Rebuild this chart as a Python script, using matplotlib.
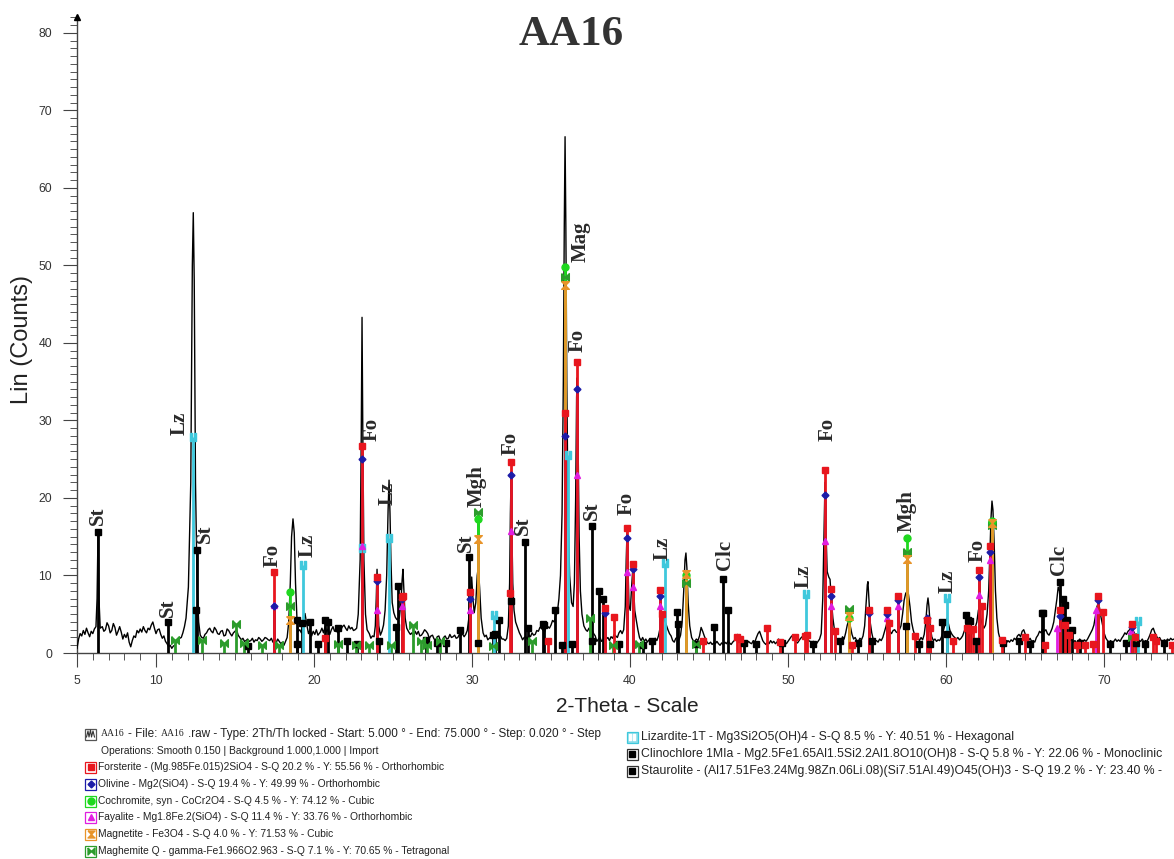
import numpy as np
import matplotlib
matplotlib.use("Agg")
import matplotlib.pyplot as plt
from matplotlib.path import Path
from matplotlib.patches import Rectangle
from matplotlib.lines import Line2D
from matplotlib.ticker import MultipleLocator, FixedLocator

# ---------------- measured diffraction trace (2-theta, counts) ----------------
trace_a = [(5.0,0.6),(5.1,1.8),(5.2,2.5),(5.3,2.2),(5.4,2.9),(5.5,2.4),(5.6,3.2),(5.7,2.6),(5.8,2.1),(5.9,2.8),(6.0,2.5),(6.1,3.1),(6.2,3.4),(6.27,7.0),(6.33,15.5),(6.39,7.0),(6.47,3.2),(6.6,3.4),(6.7,2.8),(6.8,3.0),(6.9,3.9),(7.0,3.5),(7.1,2.6),(7.2,2.9),(7.3,3.8),(7.4,3.3),(7.5,2.3),(7.6,2.8),(7.7,3.4),(7.8,2.7),(7.9,1.8),(8.0,2.4),(8.1,2.0),(8.2,2.6),(8.3,1.4),(8.4,0.8),(8.5,1.6),(8.6,2.2),(8.7,2.0),(8.8,2.9),(8.9,2.6),(9.0,3.1),(9.1,2.7),(9.2,3.4),(9.3,2.9),(9.4,2.6),(9.5,3.2),(9.6,3.0),(9.7,3.6),(9.8,4.0),(9.9,3.2),(10.0,2.5),(10.1,3.0),(10.2,3.1),(10.3,2.4),(10.4,1.9),(10.5,2.2),(10.6,1.5),(10.7,1.2),(10.8,0.8),(10.9,1.0),(11.0,0.6),(11.1,0.9),(11.2,1.0),(11.3,1.5),(11.4,1.6),(11.5,1.9),(11.6,2.0),(11.7,2.6),(11.8,3.4),(11.9,4.5),(12.05,8.5),(12.2,22.0),(12.3,50.0),(12.36,56.8),(12.42,48.0),(12.5,22.0),(12.6,9.0),(12.7,4.0),(12.8,2.3),(12.9,2.0)]
trace_b = [(13.0,1.9),(13.1,2.4),(13.2,2.6),(13.3,3.0),(13.4,3.2),(13.5,2.8),(13.6,2.6),(13.7,3.3),(13.8,3.0),(13.9,2.5),(14.0,2.4),(14.1,2.8),(14.2,2.9),(14.3,2.2),(14.4,2.3),(14.5,3.1),(14.6,2.9),(14.7,2.5),(14.8,2.2),(14.9,2.6),(15.0,2.8),(15.1,3.0),(15.2,2.3),(15.3,2.0),(15.4,1.7),(15.5,1.9),(15.6,1.5),(15.7,1.6),(15.8,1.8),(15.9,1.5),(16.0,1.6),(16.1,1.9),(16.2,1.4),(16.3,1.7),(16.4,1.6),(16.5,2.0),(16.6,1.8),(16.7,1.5),(16.8,1.7),(16.9,2.0),(17.0,1.9),(17.1,1.7),(17.2,1.6),(17.3,1.9),(17.4,1.4),(17.5,1.5),(17.6,1.3),(17.7,1.8),(17.8,1.5),(17.9,1.2),(18.0,1.4),(18.1,1.0),(18.2,1.5),(18.3,2.0),(18.4,4.0),(18.5,9.0),(18.58,15.0),(18.67,17.3),(18.75,15.5),(18.83,9.0),(18.92,4.5),(19.0,2.8),(19.1,3.0),(19.2,2.6),(19.3,3.6),(19.43,5.1),(19.55,3.6),(19.65,2.5),(19.75,3.0),(19.85,2.2),(19.95,2.8),(20.05,2.4),(20.15,3.0),(20.25,2.3)]
trace_c = [(20.4,2.7),(20.5,3.2),(20.6,2.6),(20.7,3.4),(20.8,2.7),(20.9,3.1),(21.0,2.4),(21.1,3.0),(21.2,3.4),(21.3,2.8),(21.4,3.1),(21.5,2.6),(21.6,3.3),(21.7,3.0),(21.8,3.4),(21.9,3.6),(22.0,3.2),(22.1,2.9),(22.2,3.5),(22.3,3.1),(22.4,3.3),(22.5,2.9),(22.6,3.0),(22.7,3.2),(22.8,5.0),(22.92,12.0),(22.99,28.0),(23.04,43.3),(23.09,28.0),(23.16,12.0),(23.26,5.0),(23.36,3.0),(23.5,2.5),(23.6,1.9),(23.7,2.2),(23.8,2.1),(23.88,3.5),(23.94,7.0),(23.99,10.8),(24.04,7.0),(24.1,3.5),(24.2,2.3),(24.3,2.8),(24.4,3.6),(24.5,5.5),(24.6,10.0),(24.69,18.5),(24.75,22.3),(24.81,18.0),(24.87,12.0),(24.95,6.5),(25.05,5.2),(25.15,4.6),(25.25,4.3),(25.4,4.5),(25.5,6.5),(25.58,9.5),(25.63,10.8),(25.69,8.0),(25.77,4.5),(25.87,3.2),(26.0,2.7),(26.1,2.4),(26.2,2.6),(26.3,2.1),(26.4,2.8),(26.5,2.4),(26.6,2.8),(26.7,2.2),(26.8,2.3),(26.9,2.6),(27.0,3.0),(27.1,2.8),(27.2,2.5),(27.3,1.9),(27.4,2.2),(27.5,2.3),(27.6,1.8),(27.7,1.7),(27.8,2.1),(27.9,2.2),(28.0,1.6),(28.1,1.5),(28.2,2.0),(28.3,2.2),(28.4,1.8),(28.5,1.9),(28.6,2.4),(28.7,2.0),(28.8,2.1),(28.9,2.3),(29.0,1.9),(29.1,2.0),(29.2,2.4),(29.3,2.2),(29.4,2.5),(29.5,2.1)]
trace_d = [(29.6,2.4),(29.7,2.9),(29.8,4.5),(29.9,7.5),(29.98,9.8),(30.06,7.0),(30.14,5.2),(30.24,6.5),(30.33,10.0),(30.4,11.1),(30.48,8.5),(30.58,4.5),(30.7,2.6),(30.8,2.1),(30.9,2.3),(31.0,1.7),(31.1,1.9),(31.2,2.1),(31.3,2.6),(31.4,2.5),(31.5,2.3),(31.6,2.0),(31.7,1.9),(31.8,2.2),(31.9,1.8),(32.0,1.8),(32.1,1.6),(32.2,1.9),(32.3,3.5),(32.38,9.0),(32.43,18.0),(32.47,22.5),(32.52,16.0),(32.58,9.0),(32.66,5.5),(32.76,4.0),(32.9,3.2),(33.0,2.6),(33.1,2.2),(33.2,1.7),(33.3,2.0),(33.4,2.1),(33.5,1.8),(33.6,2.3),(33.7,2.1),(33.8,2.6),(33.9,2.3),(34.0,2.4),(34.1,2.9),(34.2,2.8),(34.3,3.3),(34.4,3.2),(34.5,2.9),(34.6,2.7),(34.7,3.5),(34.8,3.4),(34.9,3.2),(35.0,3.6),(35.1,4.2),(35.2,4.0),(35.3,4.8),(35.4,5.2)]
trace_e = [(35.5,7.0),(35.6,10.0),(35.7,18.0),(35.78,35.0),(35.84,55.0),(35.89,66.6),(35.94,55.0),(36.0,35.0),(36.08,18.0),(36.18,10.0),(36.3,6.5),(36.4,6.0),(36.48,9.0),(36.56,20.0),(36.62,33.0),(36.66,35.5),(36.71,28.0),(36.78,15.0),(36.86,8.0),(36.96,5.0),(37.08,3.5),(37.2,3.0)]
trace_f = [(37.3,2.8),(37.4,3.2),(37.5,2.6),(37.6,3.0),(37.7,2.5),(37.8,2.2),(37.9,1.5),(38.0,1.8),(38.1,2.0),(38.2,1.5),(38.3,1.7),(38.4,2.2),(38.5,1.8),(38.6,2.0),(38.7,1.6),(38.8,2.1),(38.9,1.9),(39.0,2.4),(39.1,2.2),(39.2,2.0),(39.3,2.6),(39.4,2.9),(39.5,2.5),(39.6,3.0),(39.7,6.0),(39.76,12.0),(39.81,15.5),(39.87,11.0),(39.94,6.0),(40.02,5.5),(40.1,8.5),(40.17,10.6),(40.24,8.0),(40.3,5.5),(40.4,4.2),(40.5,3.0),(40.6,2.0),(40.7,1.6),(40.8,2.0),(40.9,1.5),(41.0,1.8),(41.1,1.4),(41.2,1.7),(41.3,1.3),(41.4,1.6),(41.5,1.5),(41.6,1.9),(41.7,1.6),(41.8,2.2),(41.9,3.2),(42.0,4.5),(42.1,5.1),(42.2,4.2),(42.3,3.6),(42.4,3.0),(42.5,2.5),(42.6,2.2),(42.7,1.6),(42.8,1.4),(42.9,1.9),(43.0,2.0),(43.1,1.7),(43.2,2.3),(43.3,4.0),(43.4,8.0),(43.48,12.0),(43.54,12.9),(43.6,11.0),(43.68,6.5),(43.78,3.5),(43.9,2.0),(44.0,1.6),(44.1,1.5),(44.2,1.8),(44.3,1.6),(44.4,2.2),(44.5,3.3),(44.6,2.8),(44.7,2.2),(44.8,1.7),(44.9,1.3),(45.0,1.2),(45.1,1.4),(45.2,1.1),(45.3,1.3),(45.4,1.2),(45.5,1.5),(45.6,1.2),(45.7,1.0),(45.8,1.3),(45.9,1.1),(46.0,1.4),(46.1,1.2),(46.2,1.5),(46.3,1.3),(46.4,1.1),(46.5,1.4),(46.6,1.6),(46.7,2.1),(46.8,2.4),(46.9,2.0),(47.0,1.5),(47.1,1.3),(47.2,1.1),(47.3,1.4),(47.4,1.2),(47.5,1.5),(47.6,1.3),(47.7,1.2),(47.8,1.6),(47.9,1.4),(48.0,2.0),(48.1,2.5),(48.2,2.8),(48.3,2.2),(48.4,1.6),(48.5,1.3),(48.6,1.1),(48.7,1.4),(48.8,1.2),(48.9,1.6),(49.0,1.3),(49.1,1.5),(49.2,1.2),(49.3,1.4),(49.4,1.8),(49.5,1.5),(49.6,1.3),(49.7,1.6),(49.8,1.4),(49.9,1.2),(50.0,1.5),(50.1,1.8),(50.2,2.1),(50.3,2.3),(50.4,1.8),(50.5,1.4),(50.6,1.3),(50.7,1.6),(50.8,1.9)]
trace_g = [(50.9,2.1),(51.0,2.4),(51.1,2.6),(51.2,1.9),(51.3,1.6),(51.4,1.5),(51.5,1.3),(51.6,1.5),(51.7,1.4),(51.8,1.2),(51.9,1.5),(52.0,1.8),(52.1,2.5),(52.2,7.0),(52.28,16.0),(52.34,22.0),(52.4,16.0),(52.48,10.5),(52.58,9.8),(52.66,9.5),(52.74,7.0),(52.84,4.5),(52.94,3.0),(53.05,2.0),(53.15,1.6),(53.25,1.7),(53.35,1.5),(53.45,2.1),(53.55,1.8),(53.65,2.6),(53.75,3.6),(53.86,4.3),(53.95,3.4),(54.05,2.4),(54.15,1.8),(54.25,2.0),(54.35,1.6),(54.45,1.5),(54.55,1.9),(54.65,1.7),(54.75,2.2),(54.85,3.5),(54.95,6.5),(55.02,8.8),(55.06,9.2),(55.12,7.0),(55.2,4.0),(55.3,2.6),(55.4,1.7),(55.5,1.5),(55.6,1.6),(55.7,1.4),(55.8,1.8),(55.9,1.6),(56.0,2.0),(56.1,2.7),(56.2,3.4),(56.28,4.0),(56.36,3.5),(56.45,2.8),(56.55,2.5),(56.65,2.9),(56.75,3.0),(56.85,2.7),(56.95,2.6),(57.05,3.0),(57.15,3.5),(57.25,5.0),(57.35,6.8),(57.45,7.7),(57.53,7.9),(57.62,7.6),(57.72,6.0),(57.82,4.0),(57.92,3.0),(58.02,2.3),(58.12,1.8),(58.22,2.0),(58.32,1.6),(58.42,2.0),(58.52,1.7),(58.62,2.4),(58.72,4.0),(58.8,6.2),(58.86,7.1),(58.92,6.0),(59.0,3.5),(59.1,2.1),(59.2,1.6),(59.3,1.8),(59.4,1.5),(59.5,1.7),(59.6,1.6),(59.7,2.0),(59.8,2.6),(59.9,3.4),(60.0,4.2),(60.06,4.5),(60.15,3.8),(60.25,2.9),(60.35,2.5),(60.45,2.2),(60.55,2.0),(60.65,1.8),(60.75,2.0),(60.85,1.7),(60.95,1.9),(61.05,2.2),(61.15,2.8),(61.25,3.2),(61.35,3.4),(61.45,2.8),(61.55,3.0),(61.65,2.5),(61.75,2.8),(61.85,3.3),(61.95,4.0),(62.05,5.5),(62.12,6.0),(62.2,4.5),(62.3,3.6),(62.4,3.2),(62.5,3.6),(62.6,5.0)]
trace_h = [(62.7,8.0),(62.78,13.0),(62.85,17.5),(62.91,19.6),(62.97,18.5),(63.05,14.0),(63.13,8.0),(63.22,4.5),(63.32,2.6),(63.42,1.8),(63.52,1.5),(63.62,1.8),(63.72,1.4),(63.82,1.3),(63.92,1.6),(64.02,1.4),(64.12,1.7),(64.22,1.5),(64.32,1.9),(64.42,1.7),(64.52,2.2),(64.62,2.4),(64.72,2.1),(64.82,2.8),(64.92,3.0),(65.02,2.4),(65.12,2.0),(65.22,1.6),(65.32,1.9),(65.42,1.5),(65.52,1.6),(65.62,1.4),(65.72,2.0),(65.82,2.3),(65.92,2.8),(66.02,2.6),(66.12,3.2),(66.22,2.8),(66.32,3.0),(66.42,2.5),(66.52,2.3),(66.62,2.7),(66.72,3.2),(66.82,4.0),(66.92,5.5),(67.02,7.0),(67.1,8.5),(67.18,8.0),(67.26,6.0),(67.36,4.5),(67.46,3.6),(67.56,3.0),(67.66,2.4),(67.76,2.0),(67.86,1.6),(67.96,1.8),(68.06,1.4),(68.16,1.6),(68.26,1.3),(68.36,1.5),(68.46,1.8),(68.56,1.6),(68.66,1.4),(68.76,1.7),(68.86,1.5),(68.96,1.8),(69.06,2.2),(69.16,2.6),(69.26,3.0),(69.36,3.6),(69.46,4.8),(69.56,6.0),(69.64,6.5),(69.72,5.8),(69.82,4.5),(69.92,3.5),(70.02,2.5),(70.12,1.9),(70.22,1.6),(70.32,1.4),(70.42,1.6),(70.52,1.3),(70.62,1.5),(70.72,1.8),(70.82,1.5),(70.92,1.7),(71.02,1.5),(71.12,1.9),(71.22,2.2),(71.32,2.6),(71.42,2.4),(71.52,2.8),(71.62,3.0),(71.72,3.3),(71.82,3.0),(71.92,2.6),(72.02,2.2),(72.12,2.0),(72.22,1.6),(72.32,1.5),(72.42,1.8),(72.52,1.4),(72.62,1.6),(72.72,1.5),(72.82,1.9),(72.92,2.4),(73.02,3.0),(73.12,3.2),(73.22,2.6),(73.32,2.2),(73.42,1.8),(73.52,2.0),(73.62,1.6),(73.72,1.4),(73.82,1.7),(73.92,1.5),(74.02,1.8),(74.12,1.6),(74.22,1.9),(74.32,1.7),(74.43,1.8)]

# ---------------- reference patterns (stick positions, heights) ----------------
fo_x = [17.49,20.7,23.04,24.0,25.55,25.65,29.87,32.4,32.47,34.8,35.89,36.65,38.42,39.0,39.81,40.2,41.9,42.0,44.64,46.75,46.95,48.65,49.5,50.44,51.07,51.18,52.34,52.7,53.0,54.03,55.1,56.29,56.41,56.98,58.04,58.82,59.0,60.46,61.3,61.5,61.7,62.11,62.26,62.8,63.52,65.0,66.27,67.22,67.5,67.8,68.27,68.8,69.3,69.64,69.92,71.75,71.97,73.1,73.3,74.3]
fo_y = [10.5,1.9,26.7,9.8,7.2,7.4,7.9,7.8,24.6,1.5,30.9,37.6,5.8,4.7,16.1,11.5,8.1,5.0,1.5,2.1,1.8,3.2,1.4,2.1,2.2,2.3,23.6,8.2,2.9,1.0,5.6,5.6,3.9,7.3,2.2,4.3,3.2,1.6,3.2,3.0,3.1,10.7,6.1,13.8,1.7,2.1,1.0,5.5,3.6,2.3,1.0,1.0,1.2,7.3,5.3,3.8,2.1,2.1,1.6,1.0]
ol_x = [17.49,23.04,24.0,25.6,29.87,32.47,35.89,36.65,38.42,39.81,40.2,41.9,52.34,52.7,55.1,56.29,56.98,58.82,62.11,62.8,67.22,69.64,71.75]
ol_y = [6.0,25.0,9.3,7.0,7.0,22.9,28.0,34.0,5.2,14.8,10.9,7.3,20.4,7.4,5.2,5.0,6.8,4.5,9.8,13.0,4.8,6.8,3.4]
co_x = [18.48,30.38,35.89,43.54,53.86,57.53,62.91]
co_y = [7.9,17.3,49.8,10.0,4.5,14.8,17.0]
fa_x = [17.49,23.04,24.0,25.6,29.87,32.47,36.65,39.81,40.2,41.9,52.34,52.7,56.29,56.98,62.11,62.8,67.0,69.5,71.7]
fa_y = [6.2,13.8,5.5,6.0,5.5,15.8,23.0,10.5,8.5,6.0,14.5,6.0,4.5,6.0,7.5,12.0,3.2,5.5,2.8]
mt_x = [18.48,30.38,35.89,43.54,53.86,57.53,62.91]
mt_y = [4.3,14.7,47.5,10.2,4.8,12.1,16.8]
mh_x = [11.22,12.9,14.28,15.08,15.55,16.7,17.76,18.48,21.54,22.66,23.5,24.85,26.29,26.8,27.17,28.0,30.38,31.3,33.8,35.89,37.47,38.9,40.6,43.54,44.2,53.86,57.53,62.91,71.8]
mh_y = [1.7,1.7,1.3,3.8,1.3,1.0,1.0,6.0,1.2,1.0,1.0,1.0,3.6,1.5,1.0,1.5,18.2,0.9,1.5,48.5,4.5,1.0,1.2,9.0,1.2,5.7,13.0,16.5,2.0]
lz_x = [12.34,19.30,23.04,24.75,31.41,36.06,42.2,51.14,60.06,72.17]
lz_y = [27.8,11.3,13.5,14.8,4.9,25.5,11.6,7.6,7.1,4.1]
clc_x = [12.55,18.9,25.19,37.57,45.9,46.22,59.0,61.9,66.12,67.22,67.4,68.0,72.0]
clc_y = [5.5,1.2,3.4,1.5,9.5,5.5,1.2,1.5,5.1,9.2,7.0,3.0,1.3]
st_x = [6.33,10.76,12.59,15.8,18.92,19.24,19.73,20.23,20.72,20.9,21.54,22.07,22.7,24.14,25.3,27.09,27.8,28.35,29.24,29.81,30.4,31.35,31.46,31.7,32.47,33.35,33.55,34.47,34.55,35.25,35.7,36.3,37.6,38.04,38.27,39.3,40.8,41.4,42.95,43.06,44.2,45.32,47.2,48.0,49.6,51.6,53.3,54.4,55.3,57.47,58.3,59.73,60.04,61.25,61.4,61.52,63.6,64.6,65.3,66.06,67.5,67.68,68.5,70.4,71.4,72.6,73.8]
st_y = [15.6,4.0,13.3,0.9,4.3,3.9,4.0,1.2,4.2,4.0,3.2,1.5,1.2,1.5,8.6,1.7,1.3,1.3,3.0,12.4,1.3,2.3,2.4,4.3,6.7,14.3,3.2,3.7,3.6,5.6,1.0,1.2,16.4,8.0,7.0,1.2,1.0,1.5,5.3,3.8,1.2,3.4,1.3,1.2,1.3,1.2,1.5,1.3,1.5,3.5,1.2,4.0,2.5,4.9,4.3,4.1,1.3,1.5,1.2,5.1,6.2,4.2,1.3,1.2,1.3,1.2,1.3]

# ---------------- peak annotations (text, 2-theta, counts at label base) ----------------
peak_labels = [("St",6.33,16.5),("St",10.76,4.6),("Lz",11.52,28.1),("St",13.1,14.2),("Fo",17.4,11.1),
               ("Lz",19.62,12.4),("Fo",23.67,27.4),("Lz",24.68,19.1),("St",29.62,13.0),("Mgh",30.3,18.8),
               ("Fo",32.47,25.5),("St",33.23,15.2),("Mag",36.9,50.4),("Fo",36.7,38.8),("St",37.6,17.1),
               ("Fo",39.81,17.8),("Lz",42.09,12.0),("Clc",46.0,10.7),("Lz",51.0,8.4),("Fo",52.53,27.4),
               ("Mgh",57.53,15.6),("Lz",60.13,7.7),("Fo",62.03,11.7),("Clc",67.15,10.1)]

x_ticks = [5, 10, 20, 30, 40, 50, 60, 70]
y_ticks = [0, 10, 20, 30, 40, 50, 60, 70, 80]

legend_left = [
    "Operations: Smooth 0.150 | Background 1.000,1.000 | Import",
    "Forsterite - (Mg.985Fe.015)2SiO4 - S-Q 20.2 % - Y: 55.56 % - Orthorhombic",
    "Olivine - Mg2(SiO4) - S-Q 19.4 % - Y: 49.99 % - Orthorhombic",
    "Cochromite, syn - CoCr2O4 - S-Q 4.5 % - Y: 74.12 % - Cubic",
    "Fayalite - Mg1.8Fe.2(SiO4) - S-Q 11.4 % - Y: 33.76 % - Orthorhombic",
    "Magnetite - Fe3O4 - S-Q 4.0 % - Y: 71.53 % - Cubic",
    "Maghemite Q - gamma-Fe1.966O2.963 - S-Q 7.1 % - Y: 70.65 % - Tetragonal",
]
legend_right = [
    "Lizardite-1T - Mg3Si2O5(OH)4 - S-Q 8.5 % - Y: 40.51 % - Hexagonal",
    "Clinochlore 1MIa - Mg2.5Fe1.65Al1.5Si2.2Al1.8O10(OH)8 - S-Q 5.8 % - Y: 22.06 % - Monoclinic",
    "Staurolite - (Al17.51Fe3.24Mg.98Zn.06Li.08)(Si7.51Al.49)O45(OH)3 - S-Q 19.2 % - Y: 23.40 % -",
]

# ---------------- markers ----------------
hourglass = Path([(-1, 1), (1, 1), (0, 0), (1, -1), (-1, -1), (0, 0), (-1, 1)])
bowtie = Path([(-1, 1), (0, 0), (1, 1), (1, -1), (0, 0), (-1, -1), (-1, 1)])
M, L, C = Path.MOVETO, Path.LINETO, Path.CLOSEPOLY
bars = Path([(-0.8, -1), (-0.2, -1), (-0.2, 1), (-0.8, 1), (-0.8, -1),
             (0.2, -1), (0.8, -1), (0.8, 1), (0.2, 1), (0.2, -1)],
            [M, L, L, L, C, M, L, L, L, C])

RED, BLUE, LGREEN, MAG, ORANGE, DGREEN, CYAN = "#e8161e", "#1c1ca8", "#1fd81f", "#e01ee0", "#e8942a", "#2c9c2c", "#3fc8dc"

phases = [  # x, y, colour, marker, marker size
    (st_x, st_y, "black", "s", 4.5),
    (clc_x, clc_y, "black", "s", 4.5),
    (mh_x, mh_y, DGREEN, bowtie, 5.5),
    (lz_x, lz_y, CYAN, bars, 5.5),
    (co_x, co_y, LGREEN, "o", 5),
    (mt_x, mt_y, ORANGE, hourglass, 5.5),
    (fa_x, fa_y, MAG, "^", 4.5),
    (ol_x, ol_y, BLUE, "D", 3.5),
    (fo_x, fo_y, RED, "s", 5),
]

W, H = 1174, 859
fig = plt.figure(figsize=(W / 100, H / 100), dpi=100)
ax = fig.add_axes([77 / W, (H - 653) / H, 1 - 77 / W, (653 - 15) / H])
ax.set_xlim(5, 74.43)
ax.set_ylim(0, 82.3)

trace = trace_a + trace_b + trace_c + trace_d + trace_e + trace_f + trace_g + trace_h
tx = [p[0] for p in trace]
ty = [p[1] for p in trace]
ax.plot(tx, ty, color="black", lw=1.0, zorder=3)

for xs, ys, c, m, ms in phases:
    ax.vlines(xs, 0, ys, colors=c, lw=2.0, zorder=4)
for xs, ys, c, m, ms in phases:
    ax.plot(xs, ys, ls="none", marker=m, color=c, ms=ms, mec=c, zorder=5)

for txt, xpos, ypos in peak_labels:
    ax.text(xpos, ypos, txt, rotation=90, ha="center", va="bottom", family="Liberation Serif",
            weight="bold", fontsize=15, color="#2a2a2a", zorder=6)

for s in ("top", "right"):
    ax.spines[s].set_visible(False)
for s in ("left", "bottom"):
    ax.spines[s].set_color("#444444")
    ax.spines[s].set_linewidth(1.0)

ax.xaxis.set_major_locator(FixedLocator(x_ticks))
ax.xaxis.set_minor_locator(MultipleLocator(1))
ax.yaxis.set_major_locator(FixedLocator(y_ticks))
ax.yaxis.set_minor_locator(MultipleLocator(1))
ax.set_xticklabels([str(v) for v in x_ticks])
ax.set_yticklabels([str(v) for v in y_ticks])
ax.tick_params(which="major", direction="out", length=10, width=0.8, color="#444444",
               labelsize=8.8, labelcolor="#333333")
ax.tick_params(which="minor", direction="out", length=5, width=0.7, color="#555555")
ax.tick_params(axis="x", which="major", pad=6)
ax.tick_params(axis="y", which="major", pad=8)
for lab in ax.get_xticklabels() + ax.get_yticklabels():
    lab.set_family("Liberation Sans")
ax.plot([5], [82.0], marker="^", color="black", ms=4, clip_on=False, zorder=7)

# titles and axis labels
fig.text(571 / W, 1 - 35 / H, "AA16", family="Liberation Serif", weight="bold", fontsize=31,
         color="#333333", ha="center", va="center")
fig.text(22 / W, 1 - 340 / H, "Lin (Counts)", rotation=90, family="Liberation Sans", fontsize=17,
         color="#222222", ha="center", va="center")
fig.text(627 / W, 1 - 707 / H, "2-Theta - Scale", family="Liberation Sans", fontsize=15,
         color="#222222", ha="center", va="center")

# ---------------- legend block ----------------
FS = 7.4
FS1 = 8.5
FSR = 8.8
def fx(px):
    return px / W
def fy(py):
    return 1 - py / H

def icon(px, py, ec, marker=None, mc=None, ms=5, fc="white"):
    s = 11
    fig.add_artist(Rectangle((fx(px), fy(py + s / 2)), s / W, s / H, transform=fig.transFigure,
                             fc=fc, ec=ec, lw=0.9))
    if marker is not None:
        fig.add_artist(Line2D([fx(px + s / 2)], [fy(py)], transform=fig.transFigure, ls="none",
                              marker=marker, color=mc, mec=mc, ms=ms))

icon_x, text_x = 85, 98
row_y = [734, 751, 767, 784, 801, 817, 834, 851]

# first line: scan icon and mixed-font description
icon(icon_x, row_y[0], "#555555")
zig_x = [icon_x + 1.5, icon_x + 3, icon_x + 4, icon_x + 5.5, icon_x + 6.5, icon_x + 8, icon_x + 9.5]
zig_y = [row_y[0] + 3, row_y[0] - 3, row_y[0] + 3, row_y[0] - 4, row_y[0] + 3, row_y[0] - 3, row_y[0] + 3]
fig.add_artist(Line2D([fx(v) for v in zig_x], [fy(v) for v in zig_y], transform=fig.transFigure,
                      color="#333333", lw=0.8))
renderer = fig.canvas.get_renderer()
parts = [("AA16", "Liberation Serif", FS1 - 1.5), ("- File:", "Liberation Sans", FS1),
         ("AA16", "Liberation Serif", FS1 - 1.5),
         (".raw - Type: 2Th/Th locked - Start: 5.000 ° - End: 75.000 ° - Step: 0.020 ° - Step",
          "Liberation Sans", FS1)]
cx = text_x + 3
for s, fam, size in parts:
    t = fig.text(fx(cx), fy(row_y[0]), s, family=fam, fontsize=size, color="#222222", va="center")
    cx += t.get_window_extent(renderer).width + 3.5

fig.text(fx(text_x + 3), fy(row_y[1]), legend_left[0], family="Liberation Sans", fontsize=FS,
         color="#222222", va="center")
left_icons = [(RED, "s", RED, 5), (BLUE, "D", BLUE, 3.5), (LGREEN, "o", LGREEN, 5),
              (MAG, "^", MAG, 5), (ORANGE, hourglass, ORANGE, 5), (DGREEN, bowtie, DGREEN, 5)]
for i, (ec, mk, mc, ms) in enumerate(left_icons):
    y = row_y[i + 2]
    icon(icon_x, y, ec, mk, mc, ms)
    fig.text(fx(text_x), fy(y), legend_left[i + 1], family="Liberation Sans", fontsize=FS,
             color="#222222", va="center")

ricon_x, rtext_x = 627, 641
rrow_y = [737, 754, 771]
icon(ricon_x, rrow_y[0], CYAN, bars, "white", 5, fc="#8fdeea")
icon(ricon_x, rrow_y[1], "#333333", "s", "black", 5)
icon(ricon_x, rrow_y[2], "#333333", "s", "black", 5)
for i, s in enumerate(legend_right):
    fig.text(fx(rtext_x), fy(rrow_y[i]), s, family="Liberation Sans", fontsize=FSR,
             color="#222222", va="center")

fig.savefig("out.png", dpi=100)
